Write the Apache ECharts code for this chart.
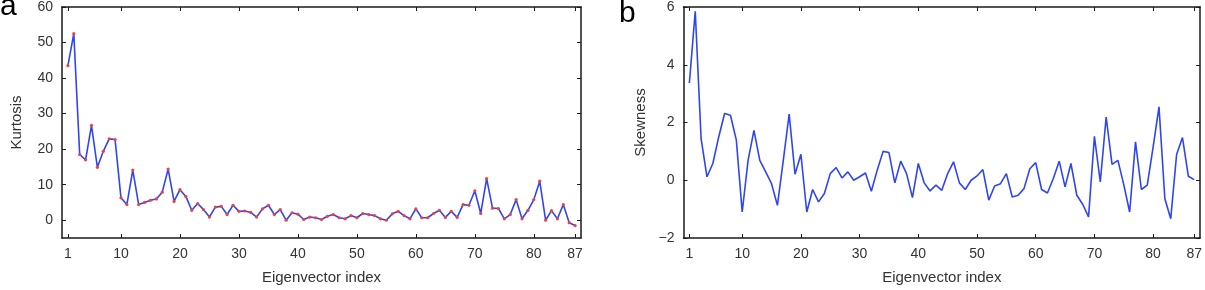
<!DOCTYPE html>
<html>
<head>
<meta charset="utf-8">
<script src="https://cdn.jsdelivr.net/npm/echarts@6/dist/echarts.min.js"></script>
<style>
  html, body { margin: 0; padding: 0; background: #fff; }
  #chart { width: 1205px; height: 290px; }
</style>
</head>
<body>
<div id="chart"></div>
<script>
// eigenvector index 1..87
var xTicks = [1, 10, 20, 30, 40, 50, 60, 70, 80, 87];
var kurtTicks = [0, 10, 20, 30, 40, 50, 60];
var skewTicks = [-2, 0, 2, 4, 6];

var kurtosis = [
  43.5, 52.5, 18.5, 17, 26.7, 14.9, 19.4, 22.9, 22.7, 6.3,
  4.4, 14.1, 4.4, 5, 5.6, 6, 7.9, 14.4, 5.3, 8.6,
  6.7, 2.8, 4.7, 3, 0.9, 3.7, 3.9, 1.6, 4.2, 2.5,
  2.6, 2.2, 0.9, 3.2, 4.2, 1.6, 3, 0, 2.1, 1.7,
  0.2, 0.9, 0.7, 0.2, 1.1, 1.6, 0.7, 0.4, 1.3, 0.7,
  1.9, 1.6, 1.3, 0.4, 0, 1.8, 2.5, 1.3, 0.4, 3.2,
  0.7, 0.7, 1.9, 2.8, 0.8, 2.5, 0.8, 4.4, 4.2, 8.3,
  1.9, 11.7, 3.4, 3.3, 0.4, 1.6, 5.8, 0.4, 2.8, 5.8,
  11, 0, 2.7, 0.4, 4.4, -0.7, -1.5
];

var skewness = [
  3.37, 5.85, 1.44, 0.12, 0.58, 1.5, 2.31, 2.25, 1.39, -1.1,
  0.69, 1.73, 0.69, 0.29, -0.12, -0.87, 0.69, 2.29, 0.21, 0.9,
  -1.1, -0.32, -0.75, -0.46, 0.23, 0.44, 0.08, 0.29, 0, 0.12,
  0.25, -0.38, 0.35, 1.0, 0.96, -0.09, 0.66, 0.23, -0.6, 0.58,
  -0.09, -0.37, -0.17, -0.35, 0.23, 0.64, -0.09, -0.32, 0, 0.15,
  0.37, -0.69, -0.2, -0.12, 0.23, -0.58, -0.52, -0.29, 0.4, 0.61,
  -0.32, -0.44, 0.06, 0.66, -0.23, 0.58, -0.52, -0.83, -1.27, 1.52,
  -0.06, 2.19, 0.55, 0.69, -0.15, -1.1, 1.33, -0.32, -0.17, 1.15,
  2.54, -0.64, -1.33, 0.89, 1.48, 0.14, 0.02
];

function pairs(vals) {
  return vals.map(function (v, i) { return [i + 1, v]; });
}

var FONT = "'Liberation Sans', Arial, Helvetica, sans-serif";
var lineCol = '#1a1a1a';
var txtCol = '#333';

function xAxes(gi) {
  var base = {
    gridIndex: gi, type: 'value', min: 0, max: 88,
    axisLine: { show: true, onZero: false, lineStyle: { color: lineCol, width: 1.5 } },
    axisTick: { show: true, inside: true, length: 4, customValues: xTicks, lineStyle: { color: lineCol } },
    splitLine: { show: false }
  };
  var bottom = Object.assign({}, base, {
    position: 'bottom',
    axisLabel: { customValues: xTicks, color: txtCol, fontSize: 14, margin: 9, fontFamily: FONT },
    name: 'Eigenvector index', nameLocation: 'middle', nameGap: 32,
    nameTextStyle: { color: txtCol, fontSize: 15, fontFamily: FONT }
  });
  var top = Object.assign({}, base, { position: 'top', axisLabel: { show: false } });
  return [bottom, top];
}

function yAxes(gi, min, max, ticks, name, gap) {
  var base = {
    gridIndex: gi, type: 'value', min: min, max: max,
    axisLine: { show: true, onZero: false, lineStyle: { color: lineCol, width: 1.5 } },
    axisTick: { show: true, inside: true, length: 4, customValues: ticks, lineStyle: { color: lineCol } },
    splitLine: { show: false }
  };
  var left = Object.assign({}, base, {
    position: 'left',
    axisLabel: {
      customValues: ticks, color: txtCol, fontSize: 14, margin: 9, fontFamily: FONT,
      formatter: function (v) { return v < 0 ? '\u2212' + Math.abs(v) : String(v); }
    },
    name: name, nameLocation: 'middle', nameGap: gap,
    nameTextStyle: { color: txtCol, fontSize: 15, fontFamily: FONT }
  });
  var right = Object.assign({}, base, { position: 'right', axisLabel: { show: false } });
  return [left, right];
}

var chart = echarts.init(document.getElementById('chart'));

var xs = xAxes(0).concat(xAxes(1));
var ys = yAxes(0, -5, 60, kurtTicks, 'Kurtosis', 38).concat(yAxes(1, -2, 6, skewTicks, 'Skewness', 35));

var option = {
  animation: false,
  backgroundColor: '#fff',
  textStyle: { fontFamily: FONT },
  title: [
    { text: 'a', left: 0, top: -8, padding: 0, textStyle: { fontSize: 30, fontWeight: 'normal', color: '#000', fontFamily: FONT } },
    { text: 'b', left: 619, top: -1, padding: 0, textStyle: { fontSize: 30, fontWeight: 'normal', color: '#000', fontFamily: FONT } }
  ],
  grid: [
    { left: 62, right: 624, top: 7, bottom: 51.5 },
    { left: 683.5, right: 3, top: 7, bottom: 51.7 }
  ],
  xAxis: xs,
  yAxis: ys,
  series: [
    {
      name: 'Kurtosis', type: 'line', xAxisIndex: 0, yAxisIndex: 0,
      data: pairs(kurtosis),
      symbol: 'circle', symbolSize: 3.2, showSymbol: true,
      itemStyle: { color: '#f0413c', borderWidth: 0 },
      lineStyle: { color: '#2f45f2', width: 1.6 }
    },
    {
      name: 'Skewness', type: 'line', xAxisIndex: 2, yAxisIndex: 2,
      data: pairs(skewness),
      showSymbol: false,
      lineStyle: { color: '#2f45f2', width: 1.6 }
    }
  ]
};

chart.setOption(option);
</script>
</body>
</html>
